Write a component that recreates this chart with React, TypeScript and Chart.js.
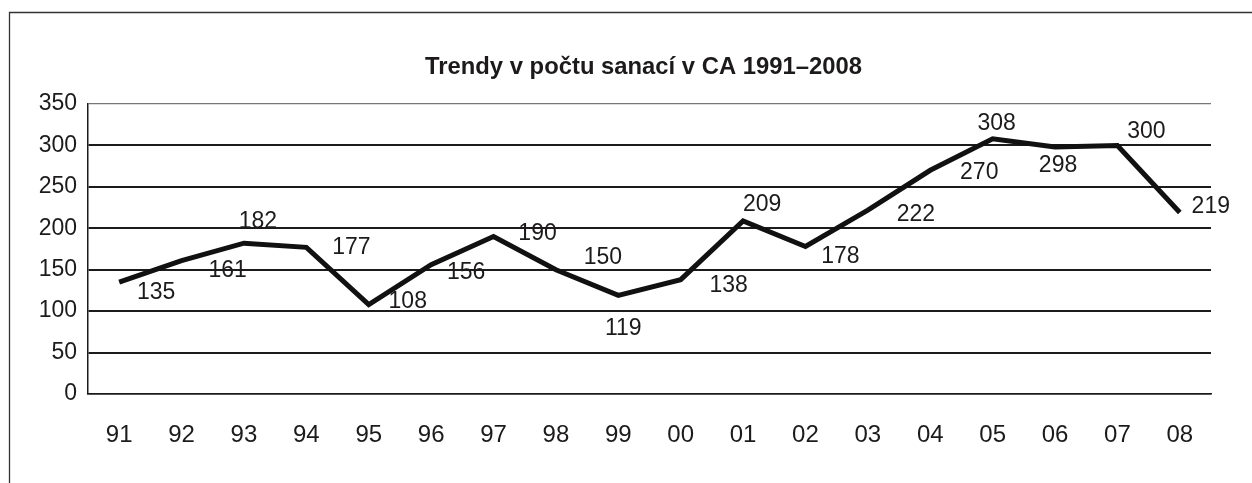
import React, { useEffect, useRef } from "react";
import { Chart, registerables } from "chart.js";

Chart.register(...registerables);

const TITLE = "Trendy v počtu sanací v CA 1991–2008";
const CATEGORIES = ["91", "92", "93", "94", "95", "96", "97", "98", "99", "00", "01", "02", "03", "04", "05", "06", "07", "08"];
const VALUES = [135, 161, 182, 177, 108, 156, 190, 150, 119, 138, 209, 178, 222, 270, 308, 298, 300, 219];
const Y_MIN = 0;
const Y_MAX = 350;
const Y_STEP = 50;
// label placement relative to each point (pixels, text centre)
const LABEL_OFFSETS: [number, number][] = [
  [37, 11], [46, 10], [14, -22], [45, 0], [39, -3], [35, 8], [44, -3], [47, -12], [5, 33],
  [48, 6], [19, -16], [35, 10], [48, 5], [49, 2], [4, -15], [3, 19], [29, -14], [31, -6],
];

const FONT = '"Liberation Sans", Arial, Helvetica, sans-serif';
const INK = "#1c1a1b";

const framePlugin = {
  id: "frame",
  beforeDraw(chart: any) {
    const { ctx, width, height } = chart;
    ctx.save();
    ctx.fillStyle = "#ffffff";
    ctx.fillRect(0, 0, width, height);
    ctx.strokeStyle = "#333333";
    ctx.lineWidth = 1.3;
    ctx.beginPath();
    ctx.moveTo(9.5, height);
    ctx.lineTo(9.5, 12.5);
    ctx.lineTo(width, 12.5);
    ctx.stroke();
    ctx.restore();
  },
};

const titlePlugin = {
  id: "customTitle",
  afterDraw(chart: any) {
    const { ctx } = chart;
    ctx.save();
    ctx.font = `bold 24px ${FONT}`;
    ctx.fillStyle = INK;
    ctx.textAlign = "center";
    ctx.textBaseline = "alphabetic";
    const w = ctx.measureText(TITLE).width;
    ctx.translate(643.5, 74);
    ctx.scale(437 / w, 1);
    ctx.fillText(TITLE, 0, 0);
    ctx.restore();
  },
};

const labelPlugin = {
  id: "pointLabels",
  afterDatasetsDraw(chart: any) {
    const { ctx } = chart;
    const meta = chart.getDatasetMeta(0);
    ctx.save();
    ctx.font = `23px ${FONT}`;
    ctx.fillStyle = INK;
    ctx.textAlign = "center";
    ctx.textBaseline = "middle";
    meta.data.forEach((el: any, i: number) => {
      const [dx, dy] = LABEL_OFFSETS[i] || [0, -20];
      ctx.fillText(String(VALUES[i]), el.x + dx, el.y + dy);
    });
    ctx.restore();
  },
};

export default function App() {
  const ref = useRef<HTMLCanvasElement | null>(null);

  useEffect(() => {
    if (!ref.current) return;
    const chart = new Chart(ref.current, {
      type: "line",
      data: {
        labels: CATEGORIES,
        datasets: [
          {
            data: VALUES,
            borderColor: "#111111",
            borderWidth: 5,
            borderJoinStyle: "miter",
            tension: 0,
            pointRadius: 0,
            fill: false,
          },
        ],
      },
      options: {
        responsive: false,
        animation: false,
        layout: { padding: { left: 0, right: 41, top: 104, bottom: 34 } },
        plugins: {
          legend: { display: false },
          title: { display: false },
          tooltip: { enabled: false },
        },
        scales: {
          x: {
            type: "category",
            offset: true,
            afterFit(scale: any) {
              scale.height = 55;
            },
            grid: { display: false, drawTicks: false },
            border: { display: true, color: INK, width: 1.5 },
            ticks: {
              color: INK,
              font: { family: FONT, size: 24 },
              padding: 27,
              maxRotation: 0,
              autoSkip: false,
            },
          },
          y: {
            min: Y_MIN,
            max: Y_MAX,
            afterFit(scale: any) {
              scale.width = 88;
            },
            grid: {
              drawTicks: false,
              color: (c: any) => (c.tick && c.tick.value === Y_MAX ? "#777777" : INK),
              lineWidth: (c: any) => (c.tick && c.tick.value === Y_MAX ? 1.2 : c.tick && c.tick.value === 0 ? 1.5 : 2),
            },
            border: { display: true, color: INK, width: 1.5 },
            ticks: {
              stepSize: Y_STEP,
              color: INK,
              font: { family: FONT, size: 23 },
              padding: 11,
            },
          },
        },
      },
      plugins: [framePlugin, titlePlugin, labelPlugin],
    } as any);
    return () => chart.destroy();
  }, []);

  return (
    <div style={{ position: "absolute", left: 0, top: 0, width: 1252, height: 483 }}>
      <canvas ref={ref} width={1252} height={483} style={{ display: "block" }} />
    </div>
  );
}
